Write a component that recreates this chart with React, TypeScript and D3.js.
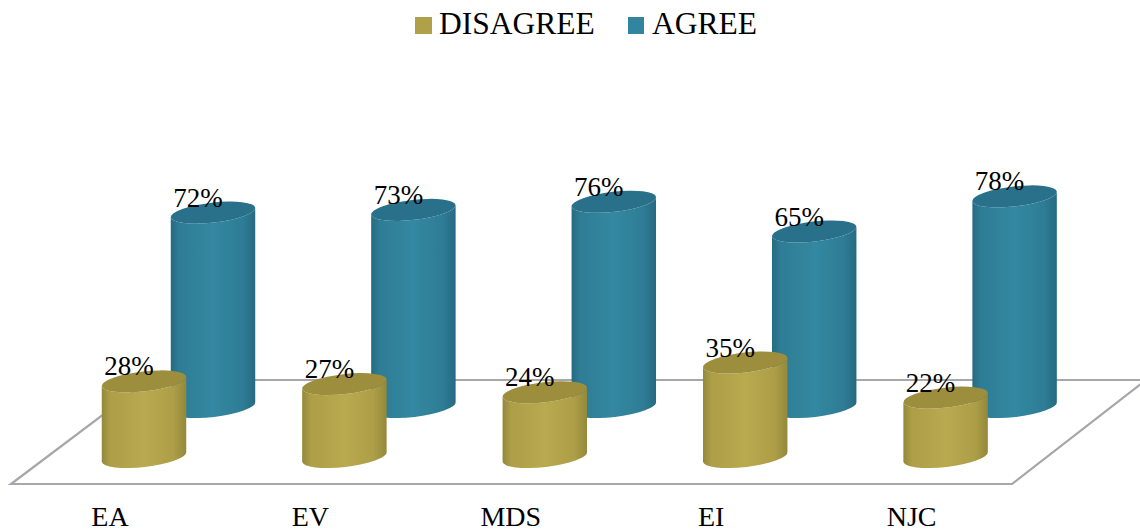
import React from "react";
import * as d3 from "d3";

const categories = ["EA", "EV", "MDS", "EI", "NJC"];
const disagree = [28, 27, 24, 35, 22];
const agree = [72, 73, 76, 65, 78];

const WIDTH = 1140;
const HEIGHT = 532;
const SERIF = "'Liberation Serif', 'Times New Roman', serif";

// Horizontal position of the front cylinder in each group, and cylinder height per percent.
const xGroup = d3.scalePoint<string>().domain(categories).range([144, 945.6]);
const heightOf = d3.scaleLinear().domain([0, 100]).range([0, 270]);

const RX = 42.5;
const RY = 10;
const TILT = -6.5;
const tiltRad = (TILT * Math.PI) / 180;
const dx = RX * Math.cos(tiltRad);
const dy = RX * Math.sin(tiltRad);

const FRONT_BASE = 457;
const BACK_BASE = 407;
const BACK_OFFSET = 69;

const floorLine = d3.line();
const floorPoints: [number, number][] = [
  [11, 484],
  [1012, 484],
  [1146, 380],
  [149, 380],
];

type CylProps = { cx: number; base: number; value: number; body: string; top: string };

function Cylinder({ cx, base, value, body, top }: CylProps) {
  const topY = base - heightOf(value);
  const side = [
    `M${cx - dx},${topY - dy}`,
    `L${cx - dx},${base - dy}`,
    `A${RX},${RY} ${TILT} 0 0 ${cx + dx},${base + dy}`,
    `L${cx + dx},${topY + dy}`,
    `A${RX},${RY} ${TILT} 0 1 ${cx - dx},${topY - dy}`,
    "Z",
  ].join(" ");
  return (
    <g>
      <path d={side} fill={`url(#${body})`} />
      <ellipse
        cx={cx}
        cy={topY}
        rx={RX}
        ry={RY}
        fill={top}
        transform={`rotate(${TILT} ${cx} ${topY})`}
      />
    </g>
  );
}

function bodyGradient(id: string, edge: string, mid: string, light: string) {
  return (
    <linearGradient id={id} x1="0" x2="1" y1="0" y2="0">
      <stop offset="0" stopColor={edge} />
      <stop offset="0.1" stopColor={mid} />
      <stop offset="0.5" stopColor={light} />
      <stop offset="0.85" stopColor={mid} />
      <stop offset="1" stopColor={edge} />
    </linearGradient>
  );
}

export default function App() {
  return (
    <svg
      width={WIDTH}
      height={HEIGHT}
      viewBox={`0 0 ${WIDTH} ${HEIGHT}`}
      style={{ position: "absolute", left: 0, top: 0, background: "#fff" }}
      fontFamily={SERIF}
    >
      <defs>
        {bodyGradient("goldBody", "#94883a", "#ad9e47", "#b9aa50")}
        {bodyGradient("tealBody", "#266a82", "#2e7c95", "#3488a1")}
      </defs>

      {/* legend */}
      <rect x={415} y={17} width={17} height={17} fill="#b0a04a" />
      <text x={439} y={34} fontSize={31.5} fill="#000">DISAGREE</text>
      <rect x={628} y={17} width={16} height={17} fill="#31859f" />
      <text x={652} y={34} fontSize={31.5} fill="#000">AGREE</text>

      {/* floor of the 3D plot */}
      <path
        d={floorLine(floorPoints) + "Z"}
        fill="#fff"
        stroke="#a6a6ab"
        strokeWidth={2.2}
        strokeLinejoin="miter"
      />

      {/* rear row first so the front row overlaps it */}
      {categories.map((c, i) => (
        <Cylinder
          key={c + "-agree"}
          cx={(xGroup(c) as number) + BACK_OFFSET}
          base={BACK_BASE}
          value={agree[i]}
          body="tealBody"
          top="#29718a"
        />
      ))}
      {categories.map((c, i) => (
        <Cylinder
          key={c + "-disagree"}
          cx={xGroup(c) as number}
          base={FRONT_BASE}
          value={disagree[i]}
          body="goldBody"
          top="#9c8e3c"
        />
      ))}

      {/* value labels */}
      {categories.map((c, i) => (
        <g key={c + "-labels"} fontSize={27} textAnchor="middle" fill="#000">
          <text x={(xGroup(c) as number) - 15} y={FRONT_BASE - heightOf(disagree[i]) - 6}>
            {disagree[i]}%
          </text>
          <text
            x={(xGroup(c) as number) + BACK_OFFSET - 15}
            y={BACK_BASE - heightOf(agree[i]) - 6}
          >
            {agree[i]}%
          </text>
        </g>
      ))}

      {/* category labels */}
      {categories.map((c) => (
        <text
          key={c}
          x={(xGroup(c) as number) - 34}
          y={526}
          fontSize={28}
          textAnchor="middle"
          fill="#000"
        >
          {c}
        </text>
      ))}
    </svg>
  );
}
